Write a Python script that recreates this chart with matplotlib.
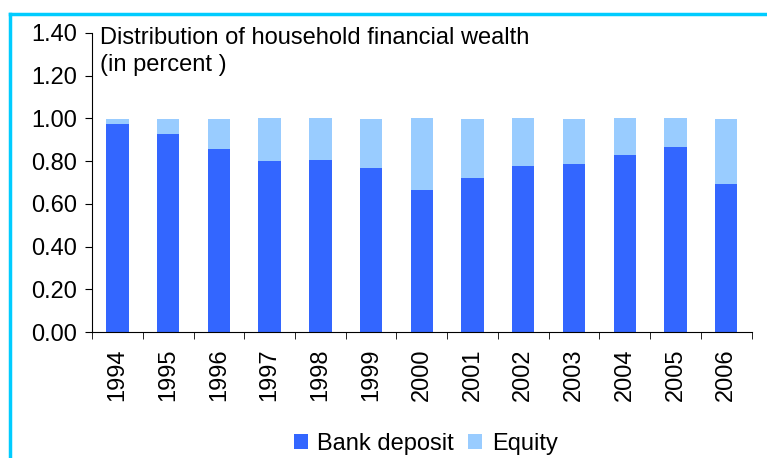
import matplotlib.pyplot as plt
import numpy as np
from matplotlib.lines import Line2D

plt.rcParams['font.family'] = ['Liberation Sans', 'DejaVu Sans']

years = ['1994', '1995', '1996', '1997', '1998', '1999', '2000',
         '2001', '2002', '2003', '2004', '2005', '2006']
bank_deposit = [0.975, 0.928, 0.858, 0.800, 0.805, 0.769, 0.666,
                0.722, 0.779, 0.788, 0.830, 0.868, 0.694]
equity = [0.023, 0.070, 0.140, 0.203, 0.198, 0.229, 0.337,
          0.276, 0.224, 0.210, 0.173, 0.135, 0.304]

fs = 17

fig = plt.figure(figsize=(7.67, 4.58), dpi=100)
ax = fig.add_axes([0.12, 0.275, 0.86, 0.653])

x = np.arange(len(years))
ax.bar(x, bank_deposit, width=0.44, color='#3366FF', label='Bank deposit')
ax.bar(x, equity, width=0.44, bottom=bank_deposit, color='#99CCFF', label='Equity')

ax.set_xlim(-0.5, len(years) - 0.5)
ax.set_ylim(0, 1.4)
ax.set_yticks(np.arange(0, 1.41, 0.2))
ax.set_yticklabels(['%.2f' % v for v in np.arange(0, 1.41, 0.2)], fontsize=fs)

# labels in the middle, ticks between categories
ax.set_xticks(x)
ax.set_xticklabels(years, rotation=90, fontsize=fs)
ax.tick_params(axis='x', length=0, pad=12)
ax.set_xticks(np.arange(-0.5, len(years)), minor=True)
ax.tick_params(axis='x', which='minor', length=5, direction='out')
ax.tick_params(axis='y', length=5, direction='out', pad=6)

for s in ['top', 'right']:
    ax.spines[s].set_visible(False)

ax.text(0.012, 1.02, 'Distribution of household financial wealth\n(in percent )',
        transform=ax.transAxes, va='top', ha='left', fontsize=fs, linespacing=1.32)

fig.legend(loc='center', bbox_to_anchor=(0.555, 0.03), ncol=2, frameon=False,
           fontsize=fs, handlelength=0.6, handleheight=0.6, handletextpad=0.4,
           columnspacing=0.6)

# cyan frame (top and left)
fig.add_artist(Line2D([0.013, 1.0], [0.970, 0.970], color='#00CCFF', lw=2.5,
                      transform=fig.transFigure))
fig.add_artist(Line2D([0.013, 0.013], [0.0, 0.970], color='#00CCFF', lw=2.5,
                      transform=fig.transFigure))

fig.savefig('out.png', dpi=100)
